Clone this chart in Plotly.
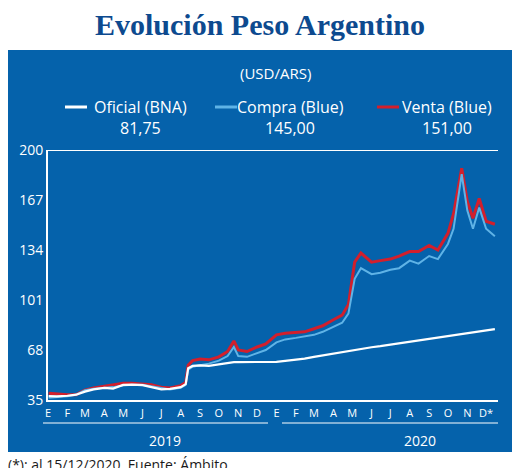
import plotly.graph_objects as go

fechas = ["2019-01-02", "2019-01-15", "2019-02-01", "2019-02-15", "2019-03-01", "2019-03-15",
          "2019-04-01", "2019-04-15", "2019-05-01", "2019-05-15", "2019-06-01", "2019-06-15",
          "2019-07-01", "2019-07-15", "2019-08-01", "2019-08-09", "2019-08-13", "2019-08-20",
          "2019-09-01", "2019-09-15", "2019-10-01", "2019-10-15", "2019-10-25", "2019-11-01",
          "2019-11-15", "2019-12-01", "2019-12-15", "2020-01-01", "2020-01-15", "2020-02-01",
          "2020-02-15", "2020-03-01", "2020-03-15", "2020-04-01", "2020-04-15", "2020-04-25",
          "2020-05-05", "2020-05-15", "2020-06-01", "2020-06-15", "2020-07-01", "2020-07-15",
          "2020-08-01", "2020-08-15", "2020-09-01", "2020-09-15", "2020-10-01", "2020-10-10",
          "2020-10-23", "2020-11-01", "2020-11-10", "2020-11-20", "2020-12-01", "2020-12-15"]

oficial = [37.5, 37.4, 37.8, 38.5, 40.5, 42.0, 43.0, 42.5, 45.0, 45.2, 44.8, 43.5,
           42.0, 42.3, 43.5, 45.5, 56.0, 57.5, 57.8, 57.5, 58.5, 59.5, 60.0, 60.0,
           60.0, 60.0, 60.1, 60.2, 60.8, 61.5, 62.3, 63.5, 64.5, 65.5, 66.5, 67.0,
           68.0, 68.5, 69.8, 70.5, 71.5, 72.5, 73.5, 74.5, 75.5, 76.5, 77.5, 78.0,
           78.5, 79.0, 80.0, 80.5, 81.0, 81.75]

compra = [36.5, 36.8, 37.5, 38.5, 41.5, 42.5, 43.0, 43.5, 44.5, 45.0, 45.0, 44.0,
          42.5, 42.0, 43.0, 45.0, 55.0, 57.0, 58.0, 59.0, 61.0, 64.0, 70.0, 64.0,
          63.5, 66.0, 68.0, 73.0, 75.0, 76.0, 77.0, 78.0, 80.0, 83.0, 86.0, 92.0,
          115.0, 122.0, 118.0, 119.0, 121.0, 122.0, 127.0, 125.0, 130.0, 128.0, 138.0, 148.0,
          184.0, 160.0, 148.0, 162.0, 148.0, 143.0]

venta = [39.5, 39.0, 38.5, 38.5, 41.5, 43.0, 44.0, 45.0, 46.0, 46.0, 45.5, 45.0,
         43.5, 43.0, 44.5, 46.5, 58.0, 61.0, 62.0, 61.5, 63.5, 67.0, 74.0, 68.0,
         67.0, 70.0, 72.0, 78.0, 79.0, 79.5, 80.0, 82.0, 84.0, 88.0, 91.0, 98.0,
         126.0, 132.0, 126.0, 127.0, 128.0, 130.0, 133.0, 133.0, 137.0, 134.0, 145.0, 158.0,
         188.0, 166.0, 155.0, 168.0, 153.0, 151.0]

meses = ["E", "F", "M", "A", "M", "J", "J", "A", "S", "O", "N", "D"]
ticks_y = [35, 68, 101, 134, 167, 200]

mes_vals = [f"{a}-{m:02d}-01" for a in (2019, 2020) for m in range(1, 13)]
mes_text = meses + meses[:-1] + ["D*"]

AZUL = "#0562ab"
fig = go.Figure()
fig.add_trace(go.Scatter(x=fechas, y=venta, mode="lines", line=dict(color="#d21f2c", width=3)))
fig.add_trace(go.Scatter(x=fechas, y=compra, mode="lines", line=dict(color="#5fb3e6", width=2)))
fig.add_trace(go.Scatter(x=fechas, y=oficial, mode="lines", line=dict(color="white", width=2.2)))


def px(x):
    return (x - 48) / 450


def py(y):
    return (400 - y) / 250


def nota(text, x, y, size, color="white", xanchor="center", family=None):
    f = dict(size=size, color=color)
    if family:
        f["family"] = family
    return dict(text=text, x=px(x), y=py(y), xref="paper", yref="paper", xanchor=xanchor,
                yanchor="middle", showarrow=False, font=f)


shapes = [dict(type="rect", xref="paper", yref="paper", x0=px(8), x1=px(512), y0=py(452), y1=py(50),
               fillcolor=AZUL, line_width=0, layer="below")]
for x0, x1 in [(43, 268), (282, 498)]:
    shapes.append(dict(type="line", xref="paper", yref="paper", x0=px(x0), x1=px(x1),
                       y0=py(423), y1=py(423), line=dict(color="white", width=1)))
leg = [("Oficial (BNA)", "81,75", "white", 65, 140), ("Compra (Blue)", "145,00", "#5fb3e6", 215, 290),
       ("Venta (Blue)", "151,00", "#d21f2c", 377, 447)]
ann = [nota("<b>Evolución Peso Argentino</b>", 260, 24, 30, "#0d4a8f", family="Liberation Serif"),
       nota("(USD/ARS)", 275, 73, 15),
       nota("2019", 165, 440, 14),
       nota("2020", 420, 440, 14),
       nota("(*): al 15/12/2020. Fuente: Ámbito.", 6, 464, 14, "#1a1a1a", xanchor="left")]
for nombre, valor, color, lx, cx in leg:
    shapes.append(dict(type="line", xref="paper", yref="paper", x0=px(lx), x1=px(lx + 22),
                       y0=py(107), y1=py(107), line=dict(color=color, width=3)))
    ann.append(nota(nombre, cx, 107, 16))
    ann.append(nota(valor, cx, 128, 16))

# the page puts the figure 8 px in from the top-left, so the figure is 8 px smaller each way
fig.update_layout(
    width=504, height=460, margin=dict(l=40, r=14, t=142, b=68),
    paper_bgcolor="white", plot_bgcolor=AZUL, showlegend=False,
    font=dict(family="Open Sans", color="white"),
    shapes=shapes, annotations=ann,
    xaxis=dict(range=["2019-01-01", "2020-12-20"], tickvals=mes_vals, ticktext=mes_text,
               showgrid=False, showline=True, linecolor="white", linewidth=2, zeroline=False,
               tickfont=dict(size=11, color="white"), ticklabelstandoff=2),
    yaxis=dict(range=[35, 200], tickvals=ticks_y, showgrid=False, showline=True, linecolor="white",
               linewidth=2, zeroline=False, tickfont=dict(size=14, color="white")),
)
fig.add_shape(type="line", xref="paper", yref="y", x0=0, x1=1, y0=200, y1=200,
              line=dict(color="white", width=2))
fig.write_html("out.html")
